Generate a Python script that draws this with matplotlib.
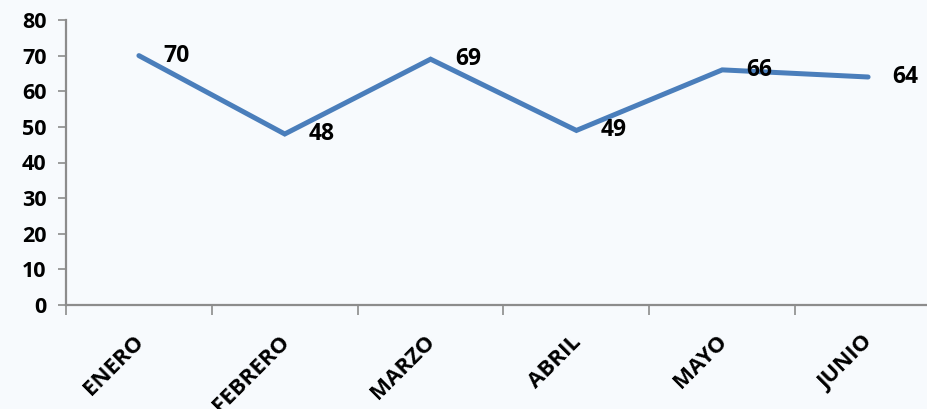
import matplotlib
matplotlib.use("Agg")
import matplotlib.pyplot as plt
import numpy as np

categories = ["ENERO", "FEBRERO", "MARZO", "ABRIL", "MAYO", "JUNIO"]
values = [70, 48, 69, 49, 66, 64]
yticks = [0, 10, 20, 30, 40, 50, 60, 70, 80]

plt.rcParams['font.family'] = ['Open Sans', 'DejaVu Sans']
bg = "#f7fafd"
fig = plt.figure(figsize=(9.28, 4.09), dpi=100, facecolor=bg)
ax = fig.add_axes([66/928, 1-305/409, (941-66)/928, (305-20)/409])
ax.set_facecolor(bg)

x = np.arange(len(categories))
ax.plot(x, values, color="#4a7ebb", lw=3.6, solid_joinstyle='miter', solid_capstyle='round', clip_on=False)
for xi, v in zip(x, values):
    ax.annotate(str(v), (xi, v), xytext=(17.5, 0), textcoords='offset points',
                ha='left', va='center', fontsize=16.5, fontweight='bold', color='black')

ax.set_xlim(-0.5, len(categories) - 0.5)
ax.set_ylim(0, 80)
ax.set_yticks(yticks)
ax.set_yticklabels([str(t) for t in yticks], fontsize=15.5, fontweight='bold')
ax.set_xticks(np.arange(len(categories) + 1) - 0.5)
ax.set_xticklabels([])
for xi, c in zip(x, categories):
    ax.annotate(c, (xi, 0), xycoords=('data', 'axes fraction'), xytext=(-4.5, -19),
                textcoords='offset points', rotation=45, ha='right', va='top',
                rotation_mode='anchor', fontsize=16, fontweight='bold', color='black',
                annotation_clip=False)
ax.tick_params(axis='x', which='major', length=7, color='#8c8c8c', width=1.2)
ax.tick_params(axis='y', length=6, color='#8c8c8c', width=1.2, pad=8)

for s in ['top', 'right']:
    ax.spines[s].set_visible(False)
for s in ['left', 'bottom']:
    ax.spines[s].set_color('#8c8c8c')
    ax.spines[s].set_linewidth(1.6)

fig.savefig("out.png", dpi=100, facecolor=bg)
